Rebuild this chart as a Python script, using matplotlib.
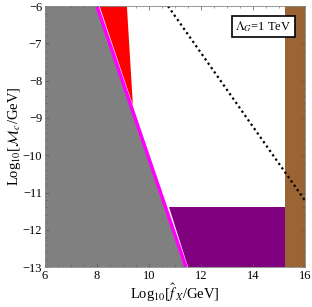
import numpy as np, matplotlib
matplotlib.use('Agg')
import matplotlib.pyplot as plt
from matplotlib.ticker import MultipleLocator

matplotlib.rcParams.update({'font.family': 'serif', 'font.serif': ['Liberation Serif', 'DejaVu Serif'],
                            'mathtext.fontset': 'stix', 'font.size': 9})

# region boundaries in (log10 f_X, log10 M_c)
gray_x = [6, 8.0, 11.42, 6]
gray_y = [-6, -6, -13, -13]
magenta_x = [8.0, 11.42]
magenta_y = [-6, -13]
red_x = [8.1, 9.15, 9.38]
red_y = [-6, -6, -8.65]
purple_x = [10.75, 15.23, 15.23, 11.5]
purple_y = [-11.39, -11.39, -13, -13]
brown_x = [15.23, 16]
dotted_x = [10.73, 16]
dotted_y = [-6, -11.22]

fig = plt.figure(figsize=(3.12, 3.07), dpi=100)
ax = fig.add_axes([0.144, 0.130, 0.834, 0.850])
ax.fill(gray_x, gray_y, color='#808080', lw=0)
ax.fill(red_x, red_y, color='#FF0000', lw=0)
ax.fill(purple_x, purple_y, color='#800080', lw=0)
ax.axvspan(brown_x[0], brown_x[1], color='#9B6434', lw=0)
ax.plot(magenta_x, magenta_y, color='#FF00FF', lw=2.5, solid_capstyle='butt')
ax.plot(dotted_x, dotted_y, color='black', lw=1.6, ls=(0, (1, 1.4)))

ax.set_xlim(6, 16)
ax.set_ylim(-13, -6)
ax.xaxis.set_major_locator(MultipleLocator(2))
ax.xaxis.set_minor_locator(MultipleLocator(0.5))
ax.yaxis.set_major_locator(MultipleLocator(1))
ax.yaxis.set_minor_locator(MultipleLocator(0.2))
ax.tick_params(which='both', direction='in', top=True, right=True, color='#555555', labelsize=9, pad=2)
ax.tick_params(which='major', length=3, width=0.5)
ax.tick_params(which='minor', length=1.5, width=0.4)
ax.set_yticks(np.arange(-13, -5))
ax.set_yticklabels([f'\u2212{abs(v)}' for v in range(-13, -5)])
for s in ax.spines.values():
    s.set_color('#888888')
    s.set_linewidth(0.6)
ax.set_xlabel(r'Log$_{10}$[$\hat{f}_{\,X}$/GeV]', fontsize=10.5, labelpad=0)
ax.set_ylabel(r'Log$_{10}$[$\mathcal{M}_c$/GeV]', fontsize=10.5, labelpad=0)
ax.text(14.4, -6.55, r'$\Lambda_G$=1 TeV', ha='center', va='center', fontsize=9, zorder=5,
        bbox=dict(boxstyle='square,pad=0.25', fc='white', ec='black', lw=1.2))

fig.savefig('out.png', dpi=100)
